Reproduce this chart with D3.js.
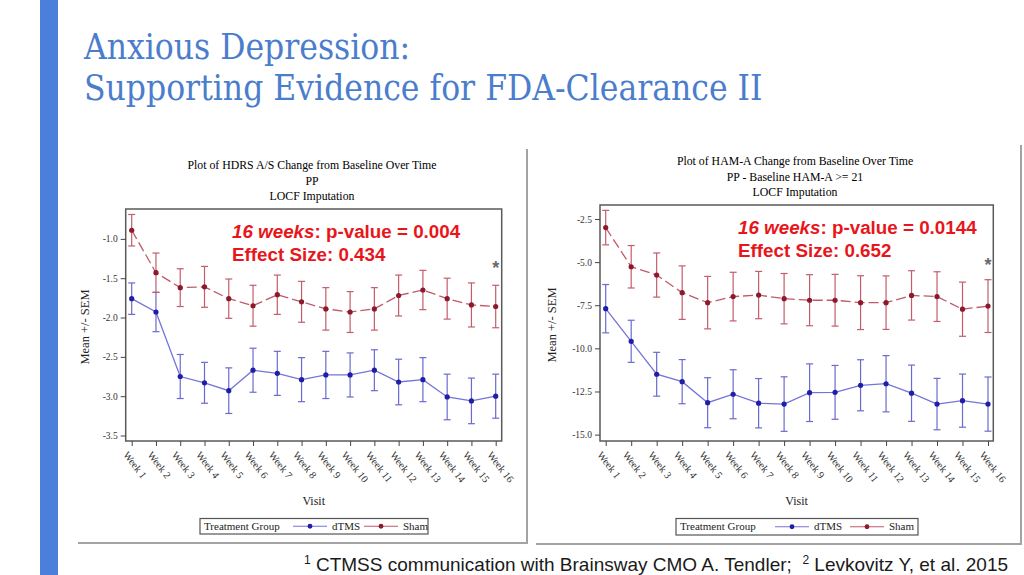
<!DOCTYPE html>
<html>
<head>
<meta charset="utf-8">
<script src="https://cdn.jsdelivr.net/npm/d3@7"></script>
<style>
  html, body { margin: 0; padding: 0; background: #fff; }
  svg { display: block; }
</style>
</head>
<body>
<svg id="svg-main" width="1024" height="575"></svg>
<script>
// ---- data ----
var weeks = ["Week 1", "Week 2", "Week 3", "Week 4", "Week 5", "Week 6", "Week 7", "Week 8",
             "Week 9", "Week 10", "Week 11", "Week 12", "Week 13", "Week 14", "Week 15", "Week 16"];
var groups = ["dTMS", "Sham"];

// HDRS A/S change from baseline
var hdrsDtmsMean = [-1.76, -1.93, -2.75, -2.83, -2.93, -2.67, -2.71, -2.79, -2.73, -2.73, -2.67, -2.82, -2.79, -3.01, -3.06, -3.00];
var hdrsDtmsSem  = [0.20, 0.25, 0.28, 0.26, 0.29, 0.28, 0.28, 0.28, 0.30, 0.28, 0.26, 0.29, 0.28, 0.29, 0.29, 0.28];
var hdrsShamMean = [-0.89, -1.43, -1.62, -1.61, -1.76, -1.85, -1.71, -1.80, -1.89, -1.93, -1.89, -1.72, -1.65, -1.76, -1.84, -1.86];
var hdrsShamSem  = [0.20, 0.25, 0.24, 0.26, 0.25, 0.26, 0.25, 0.26, 0.27, 0.26, 0.27, 0.26, 0.25, 0.26, 0.28, 0.27];
var hdrsTicks = [-1.0, -1.5, -2.0, -2.5, -3.0, -3.5];

// HAM-A change from baseline
var hamaDtmsMean = [-7.70, -9.59, -11.50, -11.93, -13.15, -12.66, -13.18, -13.23, -12.57, -12.55, -12.14, -12.05, -12.60, -13.23, -13.03, -13.23];
var hamaDtmsSem  = [1.40, 1.22, 1.27, 1.28, 1.45, 1.42, 1.43, 1.58, 1.67, 1.56, 1.48, 1.63, 1.63, 1.49, 1.54, 1.57];
var hamaShamMean = [-3.00, -5.27, -5.75, -6.77, -7.35, -7.00, -6.91, -7.12, -7.21, -7.21, -7.35, -7.35, -6.93, -7.00, -7.73, -7.55];
var hamaShamSem  = [1.00, 1.23, 1.28, 1.55, 1.52, 1.41, 1.37, 1.46, 1.48, 1.50, 1.56, 1.55, 1.43, 1.44, 1.57, 1.53];
var hamaTicks = [-2.5, -5.0, -7.5, -10.0, -12.5, -15.0];

var hdrsTitle = ["Plot of HDRS A/S Change from Baseline Over Time", "PP", "LOCF Imputation"];
var hamaTitle = ["Plot of HAM-A Change from Baseline Over Time", "PP - Baseline HAM-A >= 21", "LOCF Imputation"];
var hdrsNote = ["0.004", "0.434"];
var hamaNote = ["0.0144", "0.652"];

// ---- styles ----
var serif = "'Liberation Serif', 'Times New Roman', serif";
var sans = "'Liberation Sans', Arial, sans-serif";
var colors = {
    dTMS: { line: "#7474d6", bar: "#6a6ad0", dot: "#1e1ea6", dash: null },
    Sham: { line: "#c05a6a", bar: "#c45c6c", dot: "#8c1a2c", dash: "10,4" }
};
var fmt = d3.format(".1f");
function tickFmt(v) { return fmt(v).replace("\u2212", "-"); }

var svg = d3.select("#svg-main");

// slide decoration
svg.append("rect").attr("x", 40).attr("y", 0).attr("width", 18).attr("height", 575).attr("fill", "#4a80dc");

var heading = svg.append("g")
    .attr("font-family", "'DejaVu Serif Condensed', 'DejaVu Serif', serif")
    .attr("font-stretch", "condensed")
    .attr("fill", "#4a7dcc");
heading.append("text").attr("x", 84).attr("y", 59).style("font-size", "35px").text("Anxious Depression:");
heading.append("text").attr("x", 84).attr("y", 100).style("font-size", "35px").text("Supporting Evidence for FDA-Clearance II");

function drawPanel(cfg) {
    var g = svg.append("g");

    // panel frame (right + bottom edges of the pasted image)
    g.append("path")
        .attr("d", cfg.frame)
        .attr("fill", "none")
        .attr("stroke", "#a3a3a3")
        .attr("stroke-width", 2);

    var x = d3.scalePoint().domain(weeks).range(cfg.xRange);
    var y = d3.scaleLinear().domain(cfg.yDomain).range([cfg.plot.y1, cfg.plot.y0]);

    // titles
    cfg.title.forEach(function(t, i) {
        g.append("text")
            .attr("x", cfg.titleX)
            .attr("y", cfg.titleY[i])
            .attr("text-anchor", "middle")
            .attr("font-family", serif)
            .attr("fill", "#000")
            .style("font-size", "11.8px")
            .text(t);
    });

    // plot box
    g.append("rect")
        .attr("x", cfg.plot.x0)
        .attr("y", cfg.plot.y0)
        .attr("width", cfg.plot.x1 - cfg.plot.x0)
        .attr("height", cfg.plot.y1 - cfg.plot.y0)
        .attr("fill", "none")
        .attr("stroke", "#5a5a5a")
        .attr("stroke-width", 1.5);

    // y axis
    var yAxis = g.append("g")
        .attr("transform", "translate(" + cfg.plot.x0 + ",0)")
        .call(d3.axisLeft(y).tickValues(cfg.ticks).tickFormat(tickFmt).tickSize(5).tickPadding(3));
    yAxis.select(".domain").remove();
    yAxis.selectAll("line").attr("stroke", "#444");
    yAxis.selectAll("text").attr("font-family", serif).attr("fill", "#333").style("font-size", "9.5px");

    // x axis
    var xAxis = g.append("g")
        .attr("transform", "translate(0," + cfg.plot.y1 + ")")
        .call(d3.axisBottom(x).tickSize(5).tickFormat(""));
    xAxis.select(".domain").remove();
    xAxis.selectAll("line").attr("stroke", "#444");

    g.selectAll(".wk")
        .data(weeks)
        .enter()
        .append("text")
        .attr("class", "wk")
        .attr("transform", function(d) {
            return "translate(" + (x(d) - 9) + "," + (cfg.plot.y1 + 14) + ") rotate(52)";
        })
        .attr("font-family", serif)
        .attr("fill", "#333")
        .style("font-size", "10.3px")
        .text(function(d) { return d; });

    g.append("text")
        .attr("transform", "translate(" + cfg.yLabelX + "," + ((cfg.plot.y0 + cfg.plot.y1) / 2 + 2) + ") rotate(-90)")
        .attr("text-anchor", "middle")
        .attr("font-family", serif)
        .attr("fill", "#222")
        .style("font-size", "12.5px")
        .text("Mean +/- SEM");

    g.append("text")
        .attr("x", (cfg.plot.x0 + cfg.plot.x1) / 2)
        .attr("y", 505)
        .attr("text-anchor", "middle")
        .attr("font-family", serif)
        .attr("fill", "#222")
        .style("font-size", "12px")
        .text("Visit");

    // series: error bars, line, dots
    cfg.series.forEach(function(s) {
        var c = colors[s.name];
        var pts = weeks.map(function(w, i) { return { w: w, m: s.mean[i], e: s.sem[i] }; });
        var bars = g.append("g").attr("stroke", c.bar).attr("stroke-width", 1.2).attr("fill", "none");
        pts.forEach(function(p) {
            var cx = x(p.w), top = y(p.m + p.e), bot = y(p.m - p.e);
            bars.append("line").attr("x1", cx).attr("x2", cx).attr("y1", top).attr("y2", bot);
            bars.append("line").attr("x1", cx - 3.5).attr("x2", cx + 3.5).attr("y1", top).attr("y2", top);
            bars.append("line").attr("x1", cx - 3.5).attr("x2", cx + 3.5).attr("y1", bot).attr("y2", bot);
        });
        g.append("path")
            .datum(pts)
            .attr("fill", "none")
            .attr("stroke", c.line)
            .attr("stroke-width", 1.3)
            .attr("stroke-dasharray", c.dash)
            .attr("d", d3.line().x(function(p) { return x(p.w); }).y(function(p) { return y(p.m); }));
        g.selectAll(null)
            .data(pts)
            .enter()
            .append("circle")
            .attr("cx", function(p) { return x(p.w); })
            .attr("cy", function(p) { return y(p.m); })
            .attr("r", 2.6)
            .attr("fill", c.dot);
    });

    // significance star at week 16
    g.append("text")
        .attr("x", x(weeks[weeks.length - 1]))
        .attr("y", cfg.starY)
        .attr("text-anchor", "middle")
        .attr("font-family", sans)
        .attr("font-weight", "bold")
        .attr("fill", "#6a6a6a")
        .style("font-size", "18px")
        .text("*");

    // red annotation
    var note = g.append("text")
        .attr("x", cfg.noteX)
        .attr("y", cfg.noteY)
        .attr("font-family", sans)
        .attr("font-weight", "bold")
        .attr("fill", "#e8161b")
        .style("font-size", "18.8px");
    note.append("tspan").attr("font-style", "italic").text("16 weeks");
    note.append("tspan").text(": p-value = " + cfg.note[0]);
    g.append("text")
        .attr("x", cfg.noteX)
        .attr("y", cfg.noteY + 22.5)
        .attr("font-family", sans)
        .attr("font-weight", "bold")
        .attr("fill", "#e8161b")
        .style("font-size", "18.8px")
        .text("Effect Size: " + cfg.note[1]);

    // legend
    var L = cfg.legend;
    var lg = g.append("g");
    lg.append("rect")
        .attr("x", L.x).attr("y", L.y).attr("width", L.w).attr("height", L.h)
        .attr("fill", "#fff").attr("stroke", "#555").attr("stroke-width", 1.2);
    lg.append("text")
        .attr("x", L.x + 4).attr("y", L.y + 11.5)
        .attr("font-family", serif).attr("fill", "#222").style("font-size", "11px")
        .text("Treatment Group");
    groups.forEach(function(name, i) {
        var c = colors[name];
        var ly = L.y + L.h / 2;
        lg.append("line")
            .attr("x1", L.keys[i]).attr("x2", L.keys[i] + 34).attr("y1", ly).attr("y2", ly)
            .attr("stroke", c.line).attr("stroke-width", 1.2);
        lg.append("circle").attr("cx", L.keys[i] + 17).attr("cy", ly).attr("r", 2.4).attr("fill", c.dot);
        lg.append("text")
            .attr("x", L.keys[i] + 39).attr("y", L.y + 11.5)
            .attr("font-family", serif).attr("fill", "#222").style("font-size", "11px")
            .text(name);
    });
}

drawPanel({
    frame: "M78,543H527V149",
    plot: { x0: 125.7, x1: 501.7, y0: 209, y1: 441 },
    xRange: [131.7, 495.7],
    yDomain: [-3.57, -0.62],
    ticks: hdrsTicks,
    title: hdrsTitle,
    titleX: 312,
    titleY: [168.5, 184.5, 199.5],
    yLabelX: 89,
    series: [
        { name: "dTMS", mean: hdrsDtmsMean, sem: hdrsDtmsSem },
        { name: "Sham", mean: hdrsShamMean, sem: hdrsShamSem }
    ],
    starY: 274,
    note: hdrsNote,
    noteX: 232,
    noteY: 238,
    legend: { x: 200, y: 518.5, w: 228, h: 15.5, keys: [293, 364] }
});

drawPanel({
    frame: "M536,544H1021V145",
    plot: { x0: 600, x1: 993.3, y0: 205, y1: 441 },
    xRange: [605.7, 988],
    yDomain: [-15.37, -1.69],
    ticks: hamaTicks,
    title: hamaTitle,
    titleX: 795,
    titleY: [165, 180.5, 196],
    yLabelX: 556,
    series: [
        { name: "dTMS", mean: hamaDtmsMean, sem: hamaDtmsSem },
        { name: "Sham", mean: hamaShamMean, sem: hamaShamSem }
    ],
    starY: 271,
    note: hamaNote,
    noteX: 738,
    noteY: 234,
    legend: { x: 676, y: 518.5, w: 242, h: 16.5, keys: [775, 850] }
});

// footnote
var foot = svg.append("text")
    .attr("x", 304)
    .attr("y", 571)
    .attr("font-family", sans)
    .attr("fill", "#1a1a1a")
    .style("white-space", "pre")
    .style("font-size", "19px");
foot.append("tspan").attr("dy", -7).style("font-size", "12px").text("1");
foot.append("tspan").attr("dy", 7).text(" CTMSS communication with Brainsway CMO A. Tendler;  ");
foot.append("tspan").attr("dy", -7).style("font-size", "12px").text("2");
foot.append("tspan").attr("dy", 7).text(" Levkovitz Y, et al. 2015");
</script>
</body>
</html>
